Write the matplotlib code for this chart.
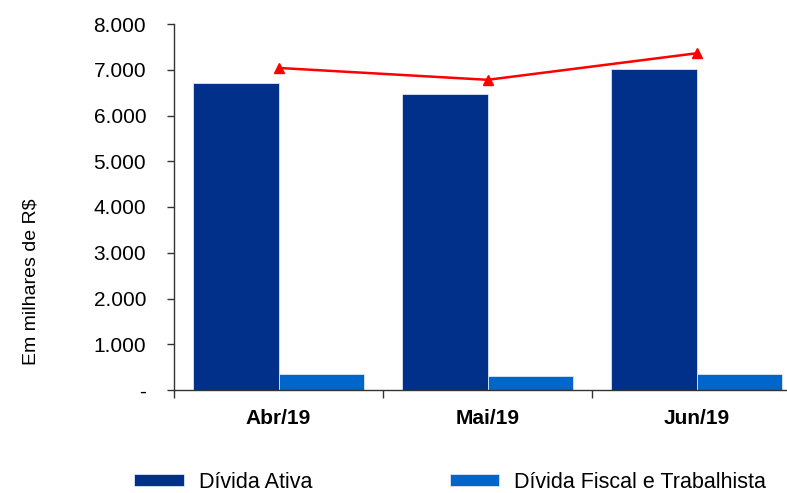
import matplotlib
matplotlib.use("Agg")
import matplotlib.pyplot as plt
import numpy as np
from matplotlib.ticker import FuncFormatter

# values in thousands of R$
months = ["Abr/19", "Mai/19", "Jun/19"]
divida_ativa = [6700, 6480, 7020]
divida_fiscal = [340, 300, 340]
total = [a + f for a, f in zip(divida_ativa, divida_fiscal)]

DARK_BLUE = "#00308A"
LIGHT_BLUE = "#0066CC"
RED = "#FF0000"

plt.rcParams["font.family"] = ["Liberation Sans", "DejaVu Sans"]

fig = plt.figure(figsize=(7.87, 4.93), dpi=100)
ax = fig.add_axes([174 / 787, 1 - 390 / 493, (801 - 174) / 787, (390 - 24) / 493])

x = np.arange(len(months))
width = 0.41
ax.bar(x - width / 2, divida_ativa, width, color=DARK_BLUE, edgecolor="#DCE6F5", linewidth=0.6, label="Dívida Ativa")
ax.bar(x + width / 2, divida_fiscal, width, color=LIGHT_BLUE, edgecolor="#DCE6F5", linewidth=0.6, label="Dívida Fiscal e Trabalhista")
ax.plot(x, total, color=RED, linewidth=1.8, marker="^", markersize=7, zorder=3)

ax.set_xlim(-0.5, len(months) - 0.5)
ax.set_ylim(0, 8000)
ax.set_yticks(np.arange(0, 8001, 1000))
ax.yaxis.set_major_formatter(FuncFormatter(lambda v, _: "-" if v == 0 else f"{int(v):,}".replace(",", ".")))
ax.tick_params(axis="y", labelsize=15, length=5, width=1, pad=15, color="#333333")

ax.set_xticks(x)
ax.set_xticklabels(months, fontsize=15, fontweight="bold")
ax.tick_params(axis="x", length=0, pad=14)
ax.set_xticks(np.arange(-0.5, len(months), 1), minor=True)
ax.tick_params(axis="x", which="minor", length=6, width=1, color="#333333")

for side in ["top", "right"]:
    ax.spines[side].set_visible(False)
for side in ["left", "bottom"]:
    ax.spines[side].set_color("#333333")
    ax.spines[side].set_linewidth(1)

fig.text(31 / 787, 1 - 282 / 493, "Em milhares de R$", rotation=90, ha="center", va="center", fontsize=14)

fig.legend(loc="center left", bbox_to_anchor=(119 / 787, 1 - 482 / 493), ncol=2, frameon=False,
           fontsize=15.5, handlelength=2.3, handleheight=0.45, handletextpad=0.7, columnspacing=6.4,
           borderpad=0.2)

fig.savefig("out.png", dpi=100)
